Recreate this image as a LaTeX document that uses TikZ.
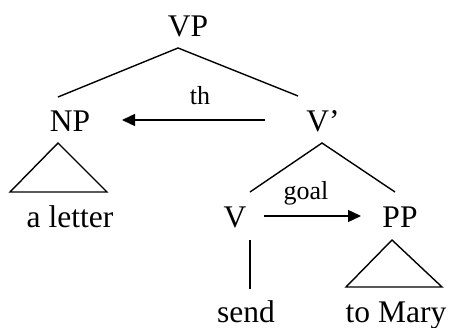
\documentclass[tikz,border=0pt]{standalone}
\usepackage{fontspec}
\setmainfont{Liberation Serif}
\usetikzlibrary{arrows.meta}
\tikzset{
  lbl/.style={inner sep=0pt, anchor=base, font=\fontsize{31.5}{36}\selectfont},
  rel/.style={inner sep=0pt, anchor=base, font=\fontsize{26}{30}\selectfont},
  branch/.style={line width=1.4pt},
  role/.style={line width=1.4pt, -{Triangle[length=13pt,width=12pt]}}
}
\begin{document}
\begin{tikzpicture}[x=1pt,y=-1pt]
\useasboundingbox (0,0) rectangle (452,328);
% labels
\node[lbl] (VP) at (188,37) {VP};
\node[lbl] (NP) at (70,132) {NP};
\node[lbl] (Vbar) at (323,132) {V’};
\node[lbl] (aletter) at (70,228) {a letter};
\node[lbl] (V) at (235,228) {V};
\node[lbl] (PP) at (400,228) {PP};
\node[lbl] (send) at (246,323) {send};
\node[lbl] (tomary) at (396,323) {to Mary};
\node[rel] (th) at (200,105) {th};
\node[rel] (goal) at (306,200) {goal};
% coordinates
\coordinate (vpA) at (178,48);
\coordinate (npT) at (58,97);
\coordinate (vbT) at (298,96);
\coordinate (npA) at (58,143);
\coordinate (npL) at (10,192);
\coordinate (npR) at (107,192);
\coordinate (vbA) at (322,143);
\coordinate (vT) at (250,192);
\coordinate (ppT) at (395,192);
\coordinate (ppA) at (392,240);
\coordinate (ppL) at (346,287);
\coordinate (ppR) at (442,287);
\coordinate (vB) at (250,240);
\coordinate (sendT) at (250,289);
\coordinate (thS) at (265,120);
\coordinate (thE) at (122,120);
\coordinate (goS) at (264,216);
\coordinate (goE) at (361,216);
% branches
\draw[branch] (npT) -- (vpA) -- (vbT);
\draw[branch] (npL) -- (npA) -- (npR) -- cycle;
\draw[branch] (vT) -- (vbA) -- (ppT);
\draw[branch] (ppL) -- (ppA) -- (ppR) -- cycle;
\draw[branch] (vB) -- (sendT);
% role arrows
\draw[role] (thS) -- (thE);
\draw[role] (goS) -- (goE);
\end{tikzpicture}
\end{document}
